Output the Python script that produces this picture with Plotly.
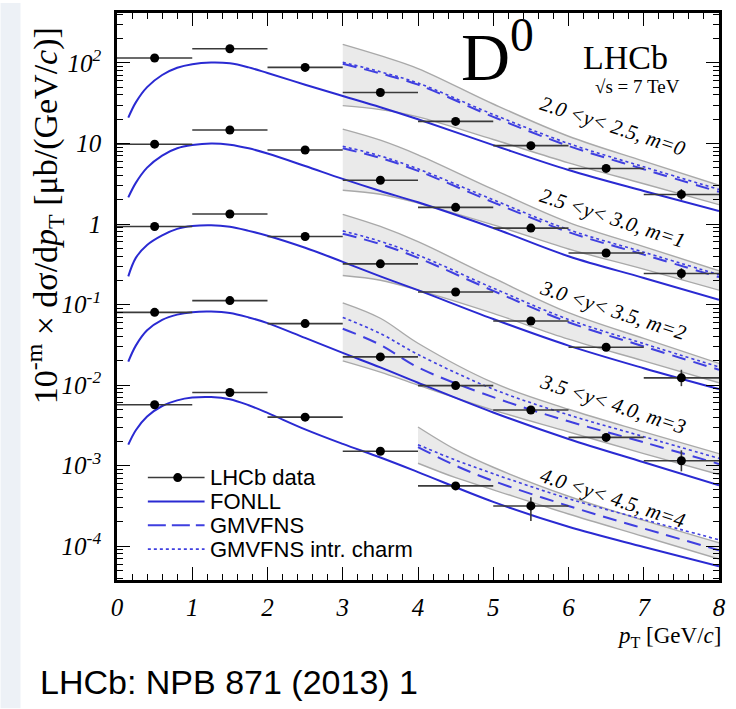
import plotly.graph_objects as go

# ---------------------------------------------------------------------------
# LHCb D0 differential cross-section, sqrt(s) = 7 TeV, scaled by 10^-m per y bin
# ---------------------------------------------------------------------------
pt_centres = [0.5, 1.5, 2.5, 3.5, 4.5, 5.5, 6.5, 7.5]
pt_halfwidth = [0.5, 0.5, 0.5, 0.5, 0.5, 0.5, 0.5, 0.5]

data_m0 = [115, 150, 88, 43, 18.8, 9.4, 4.9, 2.33]
data_m1 = [9.8, 14.7, 8.3, 3.5, 1.61, 0.89, 0.437, 0.243]
data_m2 = [0.93, 1.33, 0.70, 0.32, 0.143, 0.0625, 0.0295, 0.0123]
data_m3 = [0.080, 0.112, 0.058, 0.0224, 0.00986, 0.0049, 0.00224, 0.00115]
data_m4 = [0.0057, 0.0081, 0.0040, 0.00151, 0.00056, 0.000316]

err_up_m0 = [4, 5, 3, 1.5, 0.7, 0.4, 0.3, 0.39]
err_dn_m0 = [4, 5, 3, 1.5, 0.7, 0.4, 0.3, 0.34]
err_up_m1 = [0.4, 0.5, 0.3, 0.12, 0.06, 0.04, 0.03, 0.04]
err_dn_m1 = [0.4, 0.5, 0.3, 0.12, 0.06, 0.04, 0.03, 0.036]
err_up_m2 = [0.04, 0.05, 0.03, 0.012, 0.006, 0.003, 0.002, 0.0032]
err_dn_m2 = [0.04, 0.05, 0.03, 0.012, 0.006, 0.003, 0.002, 0.0026]
err_up_m3 = [0.004, 0.005, 0.003, 0.001, 0.0005, 0.0003, 0.00025, 0.0004]
err_dn_m3 = [0.004, 0.005, 0.003, 0.001, 0.0005, 0.0003, 0.0002, 0.0003]
err_up_m4 = [0.0003, 0.0004, 0.0002, 0.0001, 0.00005, 0.00009]
err_dn_m4 = [0.0003, 0.0004, 0.0002, 0.0001, 0.00005, 0.00011]

# FONLL central predictions
fonll_pt = [0.15, 0.25, 0.4, 0.6, 0.8, 1.0, 1.25, 1.5, 1.75, 2.0,
            2.5, 3.0, 3.5, 4.0, 5.0, 6.0, 7.0, 8.0]
fonll_m0 = [20.9, 32.4, 50.1, 70.8, 87.1, 96.6, 101.2, 98.9, 88.1, 75.0,
            53.7, 38.9, 28.2, 20.0, 9.55, 4.68, 2.57, 1.45]
fonll_m1 = [2.14, 3.24, 5.01, 7.08, 8.71, 9.55, 10.0, 9.66, 8.71, 7.50,
            5.25, 3.63, 2.57, 1.86, 0.891, 0.398, 0.214, 0.115]
fonll_m2 = [0.224, 0.380, 0.550, 0.724, 0.871, 0.944, 0.966, 0.923, 0.822, 0.716,
            0.507, 0.339, 0.224, 0.151, 0.0661, 0.0309, 0.0162, 0.00891]
fonll_m3 = [0.0195, 0.0309, 0.0479, 0.0646, 0.0750, 0.0804, 0.0817, 0.0785, 0.0692, 0.0589,
            0.0385, 0.0251, 0.0166, 0.0107, 0.00457, 0.00214, 0.00110, 0.000569]
fonll_m4 = [0.00182, 0.00275, 0.00407, 0.00550, 0.00646, 0.00700, 0.00711, 0.00668, 0.00562, 0.00452,
            0.00282, 0.00186, 0.00126, 0.000832, 0.000355, 0.000174, 0.0000977, 0.0000562]

# GMVFNS predictions (central, intrinsic charm, uncertainty band)
gm_pt = [3.0, 3.5, 4.0, 5.0, 6.0, 7.0, 8.0]
gm_pt_m4 = [4.0, 4.5, 5.0, 6.0, 7.0, 8.0]

gm_m0 = [97.7, 74.1, 53.7, 21.4, 9.33, 4.79, 2.51]
ic_m0 = [102, 77.6, 56.2, 22.9, 10.0, 5.13, 2.69]
up_m0 = [170, 123, 85.1, 30.9, 12.3, 6.03, 3.02]
lo_m0 = [29.5, 26.3, 21.4, 11.2, 5.75, 3.16, 1.74]

gm_m1 = [8.71, 6.61, 4.57, 1.86, 0.794, 0.417, 0.219]
ic_m1 = [9.23, 7.00, 4.84, 2.00, 0.851, 0.447, 0.234]
up_m1 = [15.1, 11.0, 7.24, 2.69, 1.05, 0.525, 0.263]
lo_m1 = [2.63, 2.34, 1.82, 0.977, 0.490, 0.275, 0.151]

gm_m2 = [0.759, 0.562, 0.380, 0.148, 0.0603, 0.0302, 0.0155]
ic_m2 = [0.822, 0.610, 0.412, 0.160, 0.0653, 0.0327, 0.0168]
up_m2 = [1.32, 0.933, 0.603, 0.214, 0.0794, 0.0380, 0.0186]
lo_m2 = [0.229, 0.200, 0.151, 0.0776, 0.0372, 0.0200, 0.0107]

gm_m3 = [0.0501, 0.0316, 0.0166, 0.00708, 0.00355, 0.00195, 0.00105]
ic_m3 = [0.0692, 0.0437, 0.0240, 0.00891, 0.00427, 0.00229, 0.00123]
up_m3 = [0.105, 0.0676, 0.0331, 0.0107, 0.00501, 0.00263, 0.00141]
lo_m3 = [0.0200, 0.0145, 0.0100, 0.00490, 0.00263, 0.00141, 0.000776]

gm_m4 = [0.00170, 0.00100, 0.000646, 0.000316, 0.000166, 0.0000891]
ic_m4 = [0.00182, 0.00117, 0.000794, 0.000389, 0.000214, 0.000120]
up_m4 = [0.00302, 0.00158, 0.000955, 0.000417, 0.000209, 0.000110]
lo_m4 = [0.00107, 0.000708, 0.000501, 0.000251, 0.000132, 0.0000692]

rapidity_labels = [
    "2.0 &lt;y&lt; 2.5, m=0",
    "2.5 &lt;y&lt; 3.0, m=1",
    "3.0 &lt;y&lt; 3.5, m=2",
    "3.5 &lt;y&lt; 4.0, m=3",
    "4.0 &lt;y&lt; 4.5, m=4",
]

y_tickvals = [1e2, 1e1, 1, 1e-1, 1e-2, 1e-3, 1e-4]
y_ticktext = ["10<sup>2</sup>", "10", "1", "10<sup>-1</sup>", "10<sup>-2</sup>",
              "10<sup>-3</sup>", "10<sup>-4</sup>"]
x_tickvals = [0, 1, 2, 3, 4, 5, 6, 7, 8]

# ---------------------------------------------------------------------------
FONLL_BLUE = "#2a2ad2"
GM_BLUE = "#3f3fe0"
BAND_FILL = "rgba(200,200,200,0.38)"
BAND_EDGE = "#a9a9a9"
SERIF = "Liberation Serif"
SANS = "Liberation Sans"

W, H = 736, 709
L, R, T, B = 117, 14, 10, 129
PW, PH = W - L - R, H - T - B


def px(x):
    return (x - L) / PW


def py(y):
    return (H - B - y) / PH


fig = go.Figure()

bins = [
    (gm_pt, gm_m0, ic_m0, up_m0, lo_m0),
    (gm_pt, gm_m1, ic_m1, up_m1, lo_m1),
    (gm_pt, gm_m2, ic_m2, up_m2, lo_m2),
    (gm_pt, gm_m3, ic_m3, up_m3, lo_m3),
    (gm_pt_m4, gm_m4, ic_m4, up_m4, lo_m4),
]

# uncertainty bands
for xs, gm, ic, up, lo in bins:
    fig.add_trace(go.Scatter(x=xs, y=lo, mode="lines", line=dict(color=BAND_EDGE, width=1.4, shape="spline"),
                             showlegend=False, hoverinfo="skip"))
    fig.add_trace(go.Scatter(x=xs, y=up, mode="lines", fill="tonexty", fillcolor=BAND_FILL,
                             line=dict(color=BAND_EDGE, width=1.4, shape="spline"),
                             showlegend=False, hoverinfo="skip"))

# FONLL curves
for ys in [fonll_m0, fonll_m1, fonll_m2, fonll_m3, fonll_m4]:
    fig.add_trace(go.Scatter(x=fonll_pt, y=ys, mode="lines",
                             line=dict(color=FONLL_BLUE, width=2, shape="spline"),
                             showlegend=False))

# GMVFNS central and intrinsic-charm curves
for xs, gm, ic, up, lo in bins:
    fig.add_trace(go.Scatter(x=xs, y=gm, mode="lines",
                             line=dict(color=GM_BLUE, width=2, dash="14px,8px", shape="spline"),
                             showlegend=False))
    fig.add_trace(go.Scatter(x=xs, y=ic, mode="lines",
                             line=dict(color=GM_BLUE, width=1.6, dash="3px,3px", shape="spline"),
                             showlegend=False))

# LHCb measurements
for ys, eu, ed in [(data_m0, err_up_m0, err_dn_m0), (data_m1, err_up_m1, err_dn_m1),
                   (data_m2, err_up_m2, err_dn_m2), (data_m3, err_up_m3, err_dn_m3),
                   (data_m4, err_up_m4, err_dn_m4)]:
    n = len(ys)
    fig.add_trace(go.Scatter(
        x=pt_centres[:n], y=ys, mode="markers",
        marker=dict(color="black", size=9),
        error_x=dict(type="data", array=pt_halfwidth[:n], color="#3a3a3a", thickness=1.6, width=0),
        error_y=dict(type="data", array=eu, arrayminus=ed, symmetric=False,
                     color="#3a3a3a", thickness=1.6, width=0),
        showlegend=False))

shapes = []
annotations = []

# slide background strip at the left edge
shapes.append(dict(type="rect", xref="paper", yref="paper", x0=px(0), x1=px(20), y0=py(H), y1=py(0),
                   fillcolor="#edf1f6", line=dict(width=0), layer="below"))

# hand-drawn legend block
leg_rows = [477, 501, 525, 549]
lx0, lx1, ltx = 148, 205, 208
shapes.append(dict(type="line", xref="paper", yref="paper", x0=px(lx0), x1=px(lx1),
                   y0=py(leg_rows[0]), y1=py(leg_rows[0]), line=dict(color="#3a3a3a", width=1.6)))
shapes.append(dict(type="circle", xref="paper", yref="paper", x0=px(173.5), x1=px(182.5),
                   y0=py(leg_rows[0] + 4.5), y1=py(leg_rows[0] - 4.5),
                   fillcolor="black", line=dict(color="black", width=0)))
shapes.append(dict(type="line", xref="paper", yref="paper", x0=px(lx0), x1=px(lx1),
                   y0=py(leg_rows[1]), y1=py(leg_rows[1]), line=dict(color=FONLL_BLUE, width=2)))
shapes.append(dict(type="line", xref="paper", yref="paper", x0=px(lx0), x1=px(lx1),
                   y0=py(leg_rows[2]), y1=py(leg_rows[2]), line=dict(color=GM_BLUE, width=2, dash="18px,6px")))
shapes.append(dict(type="line", xref="paper", yref="paper", x0=px(lx0), x1=px(lx1),
                   y0=py(leg_rows[3]), y1=py(leg_rows[3]), line=dict(color=GM_BLUE, width=1.6, dash="3px,3px")))
for row, name in zip(leg_rows, ["LHCb data", "FONLL", "GMVFNS", "GMVFNS intr. charm"]):
    annotations.append(dict(x=px(ltx), y=py(row), xref="paper", yref="paper", text=name,
                            showarrow=False, xanchor="left", yanchor="middle",
                            font=dict(family=SANS, size=22, color="black")))

# rapidity-bin labels along the curves
for (cx, cy), lab in zip([(615, 124), (615, 216), (615, 309), (615, 403), (615, 498)], rapidity_labels):
    annotations.append(dict(x=px(cx), y=py(cy), xref="paper", yref="paper", text=lab, showarrow=False,
                            textangle=18, xanchor="center", yanchor="middle",
                            font=dict(family=SERIF, size=21, color="black", style="italic")))

annotations += [
    dict(x=px(499), y=py(49), xref="paper", yref="paper", text="D<sup>0</sup>", showarrow=False,
         xanchor="center", yanchor="middle", font=dict(family=SERIF, size=68, color="black")),
    dict(x=px(628), y=py(55), xref="paper", yref="paper", text="LHCb", showarrow=False,
         xanchor="center", yanchor="middle", font=dict(family=SERIF, size=34, color="black")),
    dict(x=px(640), y=py(84), xref="paper", yref="paper", text="\u221As = 7 TeV", showarrow=False,
         xanchor="center", yanchor="middle", font=dict(family=SERIF, size=19, color="black")),
    dict(x=px(45), y=py(214), xref="paper", yref="paper",
         text="10<sup>-m</sup> \u00d7 d\u03c3/d<i>p</i><sub>T</sub> [\u03bcb/(GeV/<i>c</i>)]",
         showarrow=False, textangle=-90, xanchor="center", yanchor="middle",
         font=dict(family=SERIF, size=34, color="black")),
    dict(x=px(726), y=py(637), xref="paper", yref="paper",
         text="<i>p</i><sub>T</sub> [GeV/<i>c</i>]", showarrow=False,
         xanchor="right", yanchor="middle", font=dict(family=SERIF, size=23, color="black")),
    dict(x=px(230), y=py(683), xref="paper", yref="paper", text="LHCb: NPB 871 (2013) 1",
         showarrow=False, xanchor="center", yanchor="middle",
         font=dict(family=SANS, size=34, color="black")),
]

fig.update_layout(
    width=W, height=H,
    margin=dict(l=L, r=R, t=T, b=B),
    paper_bgcolor="white", plot_bgcolor="white",
    showlegend=False,
    shapes=shapes, annotations=annotations,
    xaxis=dict(range=[0, 8], tickvals=x_tickvals, ticks="inside", ticklen=13, tickwidth=1.3,
               tickcolor="black", showline=True, linewidth=2.6, linecolor="black", mirror="allticks",
               showgrid=False, zeroline=False, ticklabelstandoff=3,
               tickfont=dict(family=SERIF, size=25, color="black", style="italic"),
               minor=dict(ticks="inside", dtick=0.2, ticklen=6, tickwidth=1, tickcolor="black",
                          showgrid=False)),
    yaxis=dict(type="log", range=[-4.42, 2.62], tickvals=y_tickvals, ticktext=y_ticktext,
               ticks="inside", ticklen=13, tickwidth=1.3, tickcolor="black",
               showline=True, linewidth=2.6, linecolor="black", mirror="allticks",
               showgrid=False, zeroline=False, ticklabelstandoff=8,
               tickfont=dict(family=SERIF, size=25, color="black", style="italic"),
               minor=dict(ticks="inside", dtick="D1", ticklen=6, tickwidth=1, tickcolor="black",
                          showgrid=False)),
)

fig.write_html("out.html")
